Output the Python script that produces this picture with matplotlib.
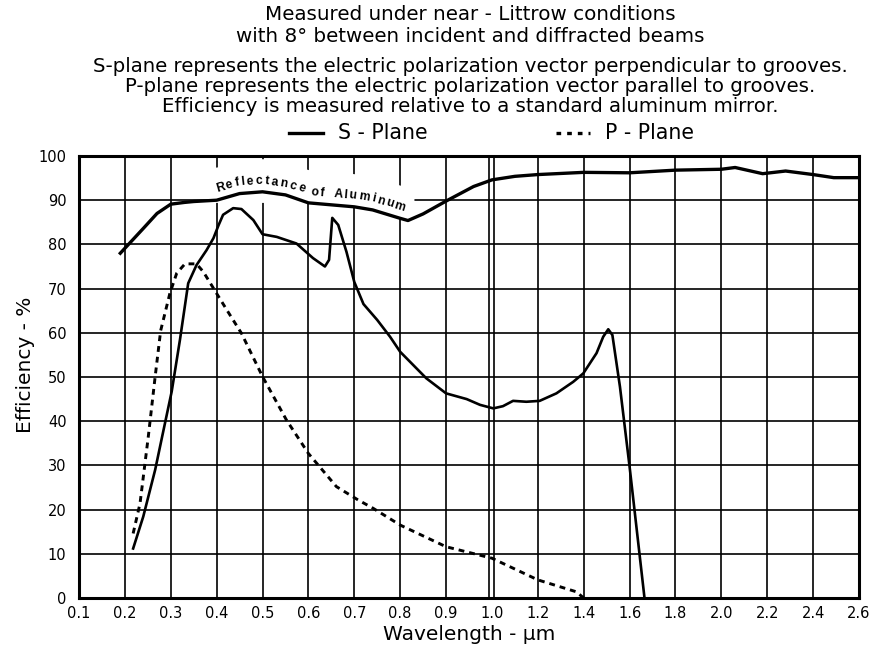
import numpy as np
import matplotlib
matplotlib.use('Agg')
import matplotlib.pyplot as plt
from matplotlib.lines import Line2D
from matplotlib.font_manager import FontProperties

# ---------------- data ----------------
al_w = [0.19, 0.24, 0.27, 0.30, 0.33, 0.35, 0.40, 0.45, 0.50, 0.55, 0.60, 0.70, 0.74,
        0.80, 0.817, 0.85, 0.90, 0.96, 1.00, 1.10, 1.20, 1.40, 1.60, 1.80, 2.00, 2.06,
        2.18, 2.28, 2.40, 2.49, 2.60]
al_v = [78.0, 83.6, 87.0, 89.1, 89.5, 89.7, 90.0, 91.5, 91.9, 91.2, 89.4, 88.5, 87.8,
        85.9, 85.4, 86.9, 89.8, 93.1, 94.6, 95.4, 95.8, 96.3, 96.2, 96.8, 97.0, 97.4,
        96.0, 96.6, 95.8, 95.1, 95.1]

s_w = [0.218, 0.240, 0.266, 0.282, 0.302, 0.320, 0.338, 0.356, 0.378, 0.393, 0.404, 0.414,
       0.436, 0.454, 0.480, 0.500, 0.531, 0.574, 0.610, 0.636, 0.645, 0.652, 0.665, 0.683,
       0.700, 0.720, 0.750, 0.778, 0.800, 0.857, 0.900, 0.945, 0.974, 1.006, 1.048, 1.092,
       1.150, 1.208, 1.281, 1.354, 1.398, 1.456, 1.485, 1.507, 1.525, 1.558, 1.600, 1.665]
s_v = [11.2, 18.4, 29.0, 36.9, 46.7, 58.4, 71.2, 75.3, 78.7, 81.4, 84.3, 86.7,
       88.2, 88.0, 85.5, 82.3, 81.7, 80.2, 76.9, 75.0, 76.5, 86.0, 84.4, 78.3,
       71.5, 66.5, 62.9, 59.1, 55.7, 49.7, 46.3, 45.0, 43.7, 42.9, 43.4, 44.6,
       44.4, 44.6, 46.3, 48.9, 50.8, 55.4, 59.1, 60.8, 59.5, 47.8, 29.7, 0.0]

p_w = [0.218, 0.233, 0.251, 0.266, 0.278, 0.298, 0.313, 0.331, 0.356, 0.371, 0.400, 0.422,
       0.454, 0.500, 0.552, 0.600, 0.661, 0.708, 0.741, 0.800, 0.900, 1.000, 1.200, 1.368, 1.400]
p_v = [14.6, 21.4, 36.5, 50.1, 60.5, 68.9, 73.5, 75.6, 75.6, 73.8, 68.9, 65.2,
       59.9, 50.1, 40.3, 32.7, 25.2, 22.2, 20.3, 16.5, 11.6, 9.0, 4.1, 1.4, 0.0]

x_ticks = [0.1, 0.2, 0.3, 0.4, 0.5, 0.6, 0.7, 0.8, 0.9, 1.0,
           1.2, 1.4, 1.6, 1.8, 2.0, 2.2, 2.4, 2.6]
x_tick_labels = ['0.1', '0.2', '0.3', '0.4', '0.5', '0.6', '0.7', '0.8', '0.9', '1.0',
                 '1.2', '1.4', '1.6', '1.8', '2.0', '2.2', '2.4', '2.6']
y_ticks = [0, 10, 20, 30, 40, 50, 60, 70, 80, 90, 100]

title_lines = ["Measured under near - Littrow conditions",
               "with 8\u00b0 between incident and diffracted beams"]
note_lines = ["S-plane represents the electric polarization vector perpendicular to grooves.",
              "P-plane represents the electric polarization vector parallel to grooves.",
              "Efficiency is measured relative to a standard aluminum mirror."]
legend_labels = ['S - Plane', 'P - Plane']
curve_label = "Reflectance of Aluminum"


# ---------------- piecewise wavelength scale ----------------
def fwd(w):
    w = np.asarray(w, dtype=float)
    return np.where(w <= 1.0, (w - 0.1) / 0.1, 9.0 + (w - 1.0) / 0.2)


def inv(i):
    i = np.asarray(i, dtype=float)
    return np.where(i <= 9.0, 0.1 + 0.1 * i, 1.0 + 0.2 * (i - 9.0))


plt.rcParams['font.family'] = ['DejaVu Sans']

W, H = 873, 650
fig = plt.figure(figsize=(W / 100, H / 100), dpi=100)
ax = fig.add_axes([79 / W, 52 / H, 780 / W, 442 / H])
ax.set_xscale('function', functions=(fwd, inv))
ax.set_xlim(0.1, 2.6)
ax.set_ylim(0, 100)

# grid
grid_kw = dict(color='black', lw=1.2, zorder=1)
for xt in x_ticks[1:-1]:
    if xt == 1.0:
        ax.axvline(float(inv(fwd(1.0) - 0.055)), **grid_kw)
        ax.axvline(float(inv(fwd(1.0) + 0.055)), **grid_kw)
    else:
        ax.axvline(xt, **grid_kw)
for yt in y_ticks[1:-1]:
    ax.axhline(yt, **grid_kw)

# white band behind the curve label
bx = inv(np.linspace(fwd(0.385), fwd(0.83), 120))
bc = np.interp(fwd(bx), fwd(al_w), al_v)
ax.fill_between(bx, np.minimum(bc, 89.5), bc + 7.5, color='white', lw=0, zorder=2)

# curves
dash = (0, (2.0, 1.7))
ax.plot(al_w, al_v, color='black', lw=2.4, zorder=4)
ax.plot(s_w, s_v, color='black', lw=1.9, zorder=4)
ax.plot(p_w, p_v, color='black', lw=2.1, zorder=4, linestyle=dash)

ax.set_xticks(x_ticks)
ax.set_xticklabels(x_tick_labels)
ax.set_yticks(y_ticks)
ax.xaxis.set_minor_locator(matplotlib.ticker.NullLocator())
ax.tick_params(axis='both', length=0, labelsize=10.5)
ax.tick_params(axis='x', pad=6)
ax.tick_params(axis='y', pad=9)
for sp in ax.spines.values():
    sp.set_linewidth(2.2)
    sp.set_zorder(5)

ax.set_xlabel("Wavelength - \u00b5m", fontsize=14.5)
ax.set_ylabel("Efficiency - %", fontsize=14.5)
ax.xaxis.set_label_coords(0.5, -0.062)
ax.yaxis.set_label_coords(-0.057, 0.527)

# titles
cx = 470 / W
fig.text(cx, 1 - 14 / H, title_lines[0], ha='center', va='center', fontsize=14.3)
fig.text(cx, 1 - 37 / H, title_lines[1], ha='center', va='center', fontsize=14.3)
for k, yy in enumerate([66, 87, 107]):
    fig.text(cx, 1 - yy / H, note_lines[k], ha='center', va='center', fontsize=14.2)

# legend (drawn in figure space)
ly_fig = 1 - 133 / H
fig.add_artist(Line2D([289 / W, 323 / W], [ly_fig, ly_fig], color='black', lw=2.4,
                      transform=fig.transFigure))
fig.add_artist(Line2D([556 / W, 590 / W], [ly_fig, ly_fig], color='black', lw=2.4,
                      linestyle=(0, (1.4, 1.8)), transform=fig.transFigure))
fig.text(338 / W, ly_fig, legend_labels[0], ha='left', va='center', fontsize=14.8)
fig.text(605 / W, ly_fig, legend_labels[1], ha='left', va='center', fontsize=14.8)

# curved label along the aluminum curve
fig.canvas.draw()
renderer = fig.canvas.get_renderer()
fp = FontProperties(family='Liberation Sans', weight='bold', size=8.8)
lx = inv(np.linspace(fwd(0.36), fwd(0.9), 800))
ly = np.interp(fwd(lx), fwd(al_w), al_v)
disp = ax.transData.transform(np.column_stack([lx, ly]))
seg = np.hypot(np.diff(disp[:, 0]), np.diff(disp[:, 1]))
arc = np.concatenate([[0.0], np.cumsum(seg)])
pos = float(np.interp(fwd(0.405), fwd(lx), arc))
inv_fig = fig.transFigure.inverted()
for ch in curve_label:
    if ch == ' ':
        pos += 8.0
        continue
    cw, chh, cd = renderer.get_text_width_height_descent(ch, fp, ismath=False)
    c = pos + cw / 2
    x0, y0 = np.interp(c - 7, arc, disp[:, 0]), np.interp(c - 7, arc, disp[:, 1])
    x1, y1 = np.interp(c + 7, arc, disp[:, 0]), np.interp(c + 7, arc, disp[:, 1])
    ang = np.arctan2(y1 - y0, x1 - x0)
    px, py = np.interp(c, arc, disp[:, 0]), np.interp(c, arc, disp[:, 1])
    off = 8.0
    X, Y = px - off * np.sin(ang), py + off * np.cos(ang)
    fx, fy = inv_fig.transform((X, Y))
    fig.text(fx, fy, ch, fontproperties=fp, rotation=np.degrees(ang),
             ha='center', va='baseline', rotation_mode='anchor', zorder=6)
    pos += cw + 1.5

fig.savefig('out.png', dpi=100)
